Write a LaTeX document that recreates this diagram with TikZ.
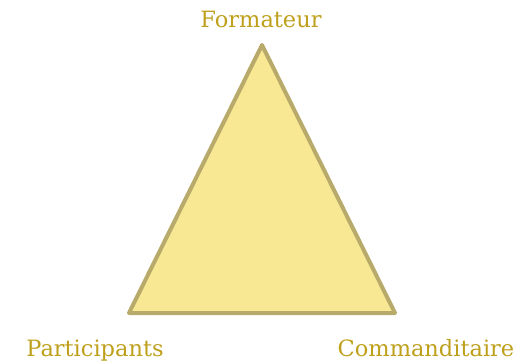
\documentclass[tikz,border=0pt]{standalone}
\usepackage{fontspec}
\setmainfont{DejaVu Serif}
\usetikzlibrary{positioning}
\definecolor{trifill}{HTML}{F8E893}
\definecolor{triedge}{HTML}{B7AA6A}
\definecolor{labc}{HTML}{BFA01C}

\begin{document}
\begin{tikzpicture}[x=1pt,y=-1pt]
    \useasboundingbox (0,0) rectangle (520,362);
    \coordinate (top) at (262,45);
    \coordinate (left) at (129,313);
    \coordinate (right) at (395,313);
    \filldraw[fill=trifill,draw=triedge,line width=4pt,line join=round] (top) -- (left) -- (right) -- cycle;
    \foreach \name/\lab/\x/\y in {form/Formateur/261/27, part/Participants/95/356, comm/Commanditaire/426/356} {
      \node[anchor=base,inner sep=0pt,font=\fontsize{22.5}{26}\selectfont,text=labc] (\name) at (\x,\y) {\lab};
    }
  \end{tikzpicture}
\end{document}
